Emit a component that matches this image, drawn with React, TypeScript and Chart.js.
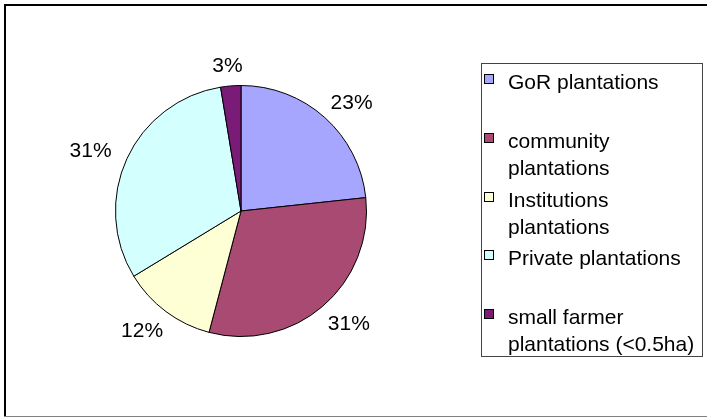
import React, { useEffect, useRef } from "react";
import { Chart, registerables } from "chart.js";

Chart.register(...registerables);

const categories = [
  "GoR plantations",
  "community plantations",
  "Institutions plantations",
  "Private plantations",
  "small farmer plantations (<0.5ha)",
];
const shares = [23.3, 30.8, 12.2, 31.1, 2.6];
const sliceColors = ["#A6A6FF", "#A94A72", "#FFFFD6", "#D3FFFF", "#7A1B77"];

const FONT = '"Liberation Sans", Arial, Helvetica, sans-serif';
const FONT_SIZE = 21;

function wrapText(ctx: CanvasRenderingContext2D, text: string, maxW: number): string[] {
  const words = text.split(" ");
  const lines: string[] = [];
  let cur = "";
  for (const w of words) {
    const test = cur ? cur + " " + w : w;
    if (ctx.measureText(test).width > maxW && cur) {
      lines.push(cur);
      cur = w;
    } else {
      cur = test;
    }
  }
  if (cur) lines.push(cur);
  return lines;
}

const decorPlugin = {
  id: "decor",
  beforeDraw(chart: any) {
    const ctx: CanvasRenderingContext2D = chart.ctx;
    ctx.save();
    ctx.fillStyle = "#ffffff";
    ctx.fillRect(0, 0, chart.width, chart.height);
    ctx.fillStyle = "#000000";
    ctx.fillRect(4, 4, chart.width - 4, 2);
    ctx.fillRect(4, 4, 2, chart.height - 5);
    ctx.fillStyle = "#808080";
    ctx.fillRect(4, chart.height - 2, chart.width - 4, 1);
    ctx.restore();
  },
  afterDraw(chart: any) {
    const ctx: CanvasRenderingContext2D = chart.ctx;
    const total = shares.reduce((a, b) => a + b, 0);
    const meta = chart.getDatasetMeta(0);
    ctx.save();
    ctx.font = `${FONT_SIZE}px ${FONT}`;
    ctx.fillStyle = "#000";
    ctx.textAlign = "center";
    ctx.textBaseline = "alphabetic";
    meta.data.forEach((arc: any, i: number) => {
      const p = arc.getProps(["x", "y", "startAngle", "endAngle", "outerRadius"], true);
      const mid = (p.startAngle + p.endAngle) / 2;
      const lx = p.x + Math.cos(mid) * (p.outerRadius + 40);
      const ly = p.y + Math.sin(mid) * (p.outerRadius + 22);
      const txt = Math.round((shares[i] / total) * 100) + "%";
      ctx.fillText(txt, lx, ly + FONT_SIZE * 0.36);
    });

    // legend box
    const bx = 481, by = 63, bw = 221, bh = 293;
    ctx.strokeStyle = "#444";
    ctx.lineWidth = 1;
    ctx.strokeRect(bx + 0.5, by + 0.5, bw, bh);
    ctx.textAlign = "left";
    const textX = 508;
    const firstBase = 89;
    const slot = 58.8;
    const lineH = 27;
    categories.forEach((c, i) => {
      const base = Math.round(firstBase + slot * i);
      ctx.fillStyle = sliceColors[i];
      ctx.fillRect(484, base - 15, 10, 10);
      ctx.strokeStyle = "#000";
      ctx.strokeRect(484.5, base - 14.5, 9, 9);
      ctx.fillStyle = "#000";
      const lines = wrapText(ctx, c, bx + bw - textX - 3);
      lines.forEach((ln, j) => ctx.fillText(ln, textX, base + j * lineH));
    });
    ctx.restore();
  },
};

export default function App() {
  const ref = useRef<HTMLCanvasElement | null>(null);
  useEffect(() => {
    if (!ref.current) return;
    const chart = new Chart(ref.current, {
      type: "pie",
      data: {
        labels: categories,
        datasets: [
          {
            data: shares,
            backgroundColor: sliceColors,
            borderColor: "#000",
            borderWidth: 1,
          },
        ],
      },
      options: {
        animation: false,
        responsive: false,
        devicePixelRatio: 1,
        layout: { padding: { left: 115, top: 85, right: 340, bottom: 81 } },
        plugins: {
          legend: { display: false },
          tooltip: { enabled: false },
          title: { display: false },
        },
      },
      plugins: [decorPlugin],
    });
    return () => chart.destroy();
  }, []);
  return (
    <div style={{ position: "fixed", left: 0, top: 0, width: 707, height: 418, background: "#fff" }}>
      <canvas ref={ref} width={707} height={418} style={{ display: "block" }} />
    </div>
  );
}
